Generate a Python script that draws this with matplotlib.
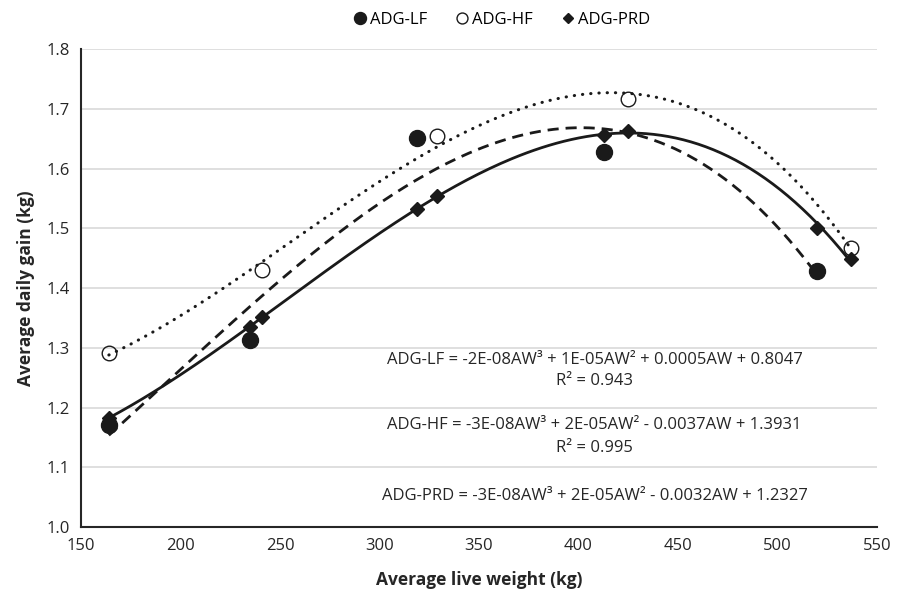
import numpy as np
import matplotlib
matplotlib.use("Agg")
import matplotlib.pyplot as plt

plt.rcParams['font.family'] = ['Open Sans', 'DejaVu Sans']

# live weight (kg) and daily gain (kg)
aw_lf = [164, 235, 319, 413, 520]
adg_lf = [1.171, 1.313, 1.651, 1.628, 1.429]

aw_hf = [164, 241, 329, 425, 537]
adg_hf = [1.292, 1.430, 1.654, 1.716, 1.467]

aw_prd = [164, 235, 241, 319, 329, 413, 425, 520, 537]
adg_prd = [1.183, 1.335, 1.351, 1.532, 1.554, 1.656, 1.663, 1.501, 1.448]

eq_lf = "ADG-LF = -2E-08AW³ + 1E-05AW² + 0.0005AW + 0.8047"
r2_lf = "R² = 0.943"
eq_hf = "ADG-HF = -3E-08AW³ + 2E-05AW² - 0.0037AW + 1.3931"
r2_hf = "R² = 0.995"
eq_prd = "ADG-PRD = -3E-08AW³ + 2E-05AW² - 0.0032AW + 1.2327"


def trend(x, y):
    # cubic trendline over the range of the data, like the spreadsheet does
    c = np.polyfit(x, y, 3)
    xs = np.linspace(min(x), max(x), 200)
    return xs, np.polyval(c, xs)


fig = plt.figure(figsize=(9.07, 5.92), dpi=100)
ax = fig.add_axes([0.0893, 0.1098, 0.8777, 0.8074])

xs, ys = trend(aw_lf, adg_lf)
ax.plot(xs, ys, color='#1a1a1a', lw=2, ls=(0, (4, 2.5)), zorder=2)
xs, ys = trend(aw_hf, adg_hf)
ax.plot(xs, ys, color='#1a1a1a', lw=2.2, ls=(0, (0.1, 2.6)), dash_capstyle='round', zorder=2)
xs, ys = trend(aw_prd, adg_prd)
ax.plot(xs, ys, color='#1a1a1a', lw=2, ls='-', zorder=2)

ax.plot(aw_prd, adg_prd, 'D', color='#1a1a1a', ms=7, label='ADG-PRD', zorder=3)
ax.plot(aw_hf, adg_hf, 'o', mfc='none', mec='#1a1a1a', mew=1, ms=10.5, label='ADG-HF', zorder=4)
ax.plot(aw_lf, adg_lf, 'o', color='#1a1a1a', ms=11.5, label='ADG-LF', zorder=4)

ax.set_xlim(150, 550)
ax.set_ylim(1.0, 1.8)
ax.set_xticks(np.arange(150, 551, 50))
ax.set_yticks(np.arange(1.0, 1.81, 0.1))
ax.set_yticklabels([f"{v:.1f}" for v in np.arange(1.0, 1.81, 0.1)])
ax.tick_params(length=0, labelsize=12, colors='#262626', pad=8)
ax.grid(axis='y', color='#d9d9d9', lw=1.2)
ax.set_axisbelow(True)
for s in ['top', 'right']:
    ax.spines[s].set_visible(False)
for s in ['left', 'bottom']:
    ax.spines[s].set_color('#262626')
    ax.spines[s].set_linewidth(1.5)

ax.set_xlabel('Average live weight (kg)', fontsize=12.5, fontweight='bold', color='#262626', labelpad=12)
ax.set_ylabel('Average daily gain (kg)', fontsize=12.5, fontweight='bold', color='#262626', labelpad=8)

tx = 408
ax.text(tx, 1.280, eq_lf, ha='center', va='center', fontsize=12, color='#262626')
ax.text(tx, 1.244, r2_lf, ha='center', va='center', fontsize=12, color='#262626')
ax.text(tx, 1.170, eq_hf, ha='center', va='center', fontsize=12, color='#262626')
ax.text(tx, 1.133, r2_hf, ha='center', va='center', fontsize=12, color='#262626')
ax.text(tx, 1.052, eq_prd, ha='center', va='center', fontsize=12, color='#262626')

h, l = ax.get_legend_handles_labels()
order = [2, 1, 0]
leg = fig.legend([h[i] for i in order], [l[i] for i in order], loc='center',
                 bbox_to_anchor=(0.552, 0.966), ncol=3, frameon=False,
                 fontsize=12, handletextpad=0.1, columnspacing=1.6,
                 handlelength=1.0, markerscale=0.75)

fig.savefig('out.png', dpi=100)
